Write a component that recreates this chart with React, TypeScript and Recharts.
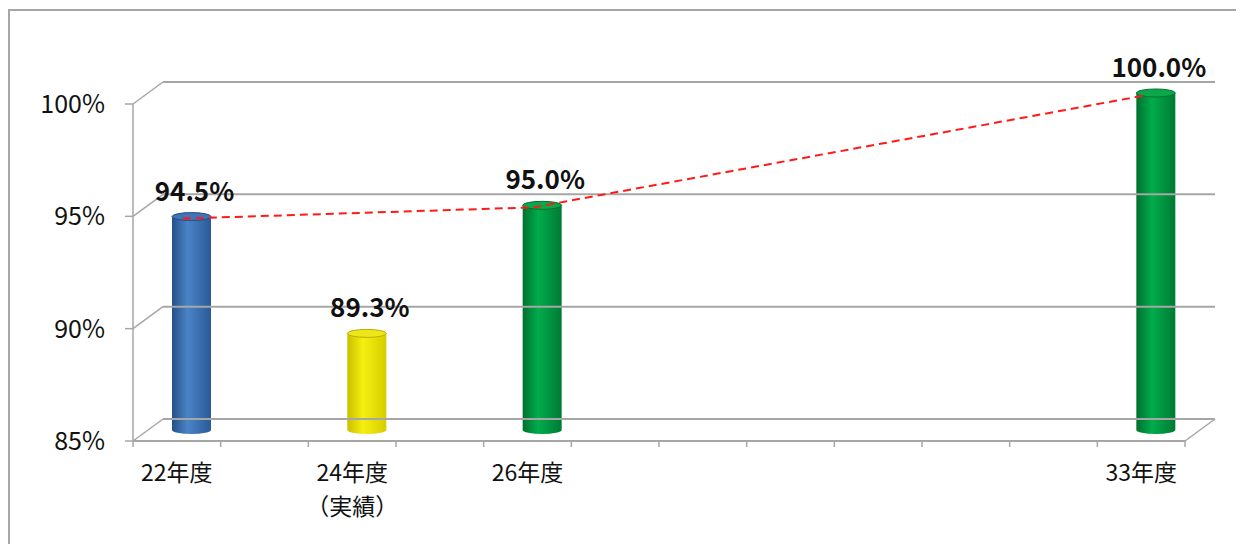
import React from 'react';
import { ComposedChart, Bar, Line, XAxis, YAxis, ReferenceLine } from 'recharts';

const categories = ['22年度', '23年度', '24年度', '25年度', '26年度', '27年度', '28年度', '29年度', '30年度', '31年度', '32年度', '33年度'];
const tickLabels: string[][] = [['22年度'], [], ['24年度', '（実績）'], [], ['26年度'], [], [], [], [], [], [], ['33年度']];
const rates: (number | null)[] = [94.5, null, 89.3, null, 95.0, null, null, null, null, null, null, 100.0];
const targetTrend: (number | null)[] = [94.5, null, null, null, 95.0, null, null, null, null, null, null, 100.0];
const yTicks = [85, 90, 95, 100];

const data = categories.map((c, i) => ({ name: c, rate: rates[i], target: targetTrend[i] }));

const FONT = "'Noto Sans CJK JP', 'Noto Sans', sans-serif";
const DX = 30;
const DY = -22;
const GRID = '#a6a6a6';
const CHART_W = 1236;
const CHART_H = 536;
const MARGIN = { top: 96, right: 59, bottom: 43, left: 0 };
const Y_W = 125;
const BAND = (CHART_W - MARGIN.left - MARGIN.right - Y_W) / categories.length;

const barStyle: Record<string, string> = {
  '22年度': 'blue',
  '24年度': 'yellow',
  '26年度': 'green',
  '33年度': 'green',
};

const Cylinder = (props: any) => {
  const { x, y, width, height, payload } = props;
  if (payload == null || payload.rate == null) return null;
  const kind = barStyle[payload.name] || 'green';
  const cx = x + width / 2 + DX / 2;
  const top = y + DY / 2;
  const bottom = y + height + DY / 2;
  const rx = width / 2;
  const ry = 4;
  const left = cx - rx;
  const right = cx + rx;
  const topFill = kind === 'blue' ? '#3f74b6' : kind === 'yellow' ? '#eee51a' : '#0aa84a';
  const edge = kind === 'blue' ? '#244f88' : kind === 'yellow' ? '#b9b000' : '#00702e';
  return (
    <g>
      <path
        d={`M${left},${top} L${left},${bottom} A${rx},${ry} 0 0 0 ${right},${bottom} L${right},${top} Z`}
        fill={`url(#grad-${kind})`}
      />
      <ellipse cx={cx} cy={top} rx={rx} ry={ry} fill={topFill} stroke={edge} strokeWidth={1} />
    </g>
  );
};

const BarLabel = (props: any) => {
  const { x, y, width, value } = props;
  if (value == null) return null;
  return (
    <text
      x={x + width / 2 + DX / 2 + 3}
      y={y - 27}
      textAnchor="middle"
      fontFamily={FONT}
      fontWeight="bold"
      fontSize={26}
      fill="#111"
    >
      {`${Number(value).toFixed(1)}%`}
    </text>
  );
};

const XTick = (props: any) => {
  const { x, y, index } = props;
  const lines = tickLabels[index] || [];
  const half = BAND / 2;
  return (
    <g>
      <line x1={x - half} y1={y} x2={x - half} y2={y + 6} stroke={GRID} strokeWidth={1.5} />
      {index === categories.length - 1 && (
        <line x1={x + half} y1={y} x2={x + half} y2={y + 6} stroke={GRID} strokeWidth={1.5} />
      )}
      {lines.map((t, i) => (
        <text key={i} x={x} y={y + 40 + i * 34} textAnchor="middle" fontFamily={FONT} fontSize={23} fill="#111">
          {t}
        </text>
      ))}
    </g>
  );
};

const gridShape = (v: number) => (p: any) => {
  const { x1, y1, x2, y2 } = p;
  return (
    <g>
      <line x1={x1 + DX} y1={y1 + DY} x2={x2 + DX} y2={y2 + DY} stroke={GRID} strokeWidth={2} />
      <line x1={x1} y1={y1} x2={x1 + DX} y2={y1 + DY} stroke={GRID} strokeWidth={1.5} />
      {v === yTicks[0] && <line x1={x2} y1={y2} x2={x2 + DX} y2={y2 + DY} stroke={GRID} strokeWidth={1.5} />}
    </g>
  );
};

export default function App() {
  return (
    <div style={{ position: 'relative', width: CHART_W, height: CHART_H }}>
      <div style={{ position: 'absolute', left: 0, top: 1, width: 1240, height: 2, background: '#a6a6a6' }} />
      <div style={{ position: 'absolute', left: 0, top: 1, width: 2, height: 540, background: '#a6a6a6' }} />
      <div style={{ position: 'absolute', left: 0, top: 0 }}>
        <ComposedChart width={CHART_W} height={CHART_H} data={data} margin={MARGIN} barCategoryGap={0}>
          <defs>
            <linearGradient id="grad-blue" x1="0" y1="0" x2="1" y2="0">
              <stop offset="0%" stopColor="#244f88" />
              <stop offset="40%" stopColor="#4a84c6" />
              <stop offset="100%" stopColor="#2a5a98" />
            </linearGradient>
            <linearGradient id="grad-yellow" x1="0" y1="0" x2="1" y2="0">
              <stop offset="0%" stopColor="#c9c000" />
              <stop offset="40%" stopColor="#f6ef10" />
              <stop offset="100%" stopColor="#d6cd00" />
            </linearGradient>
            <linearGradient id="grad-green" x1="0" y1="0" x2="1" y2="0">
              <stop offset="0%" stopColor="#00702e" />
              <stop offset="40%" stopColor="#00ac4b" />
              <stop offset="100%" stopColor="#007a34" />
            </linearGradient>
          </defs>
          {yTicks.map((v) => (
            <ReferenceLine key={v} y={v} stroke={GRID} shape={gridShape(v)} />
          ))}
          <XAxis
            dataKey="name"
            height={60}
            axisLine={{ stroke: GRID, strokeWidth: 2 }}
            tickLine={false}
            tickSize={0}
            tickMargin={0}
            interval={0}
            tick={<XTick />}
          />
          <YAxis
            width={Y_W}
            domain={[85, 100]}
            ticks={yTicks}
            axisLine={{ stroke: GRID, strokeWidth: 1.5 }}
            tickLine={{ stroke: GRID, strokeWidth: 1.5 }}
            tickSize={8}
            tickMargin={20}
            tickFormatter={(v: number) => `${v}%`}
            tick={{ fontFamily: FONT, fontSize: 25, fill: '#111' }}
          />
          <Bar dataKey="rate" barSize={39} isAnimationActive={false} shape={<Cylinder />} label={<BarLabel />} />
          <Line
            dataKey="target"
            type="linear"
            connectNulls
            stroke="#ff1a1a"
            strokeWidth={2}
            strokeDasharray="8 5"
            dot={false}
            activeDot={false}
            isAnimationActive={false}
            transform="translate(6,-9)"
          />
        </ComposedChart>
      </div>
    </div>
  );
}
